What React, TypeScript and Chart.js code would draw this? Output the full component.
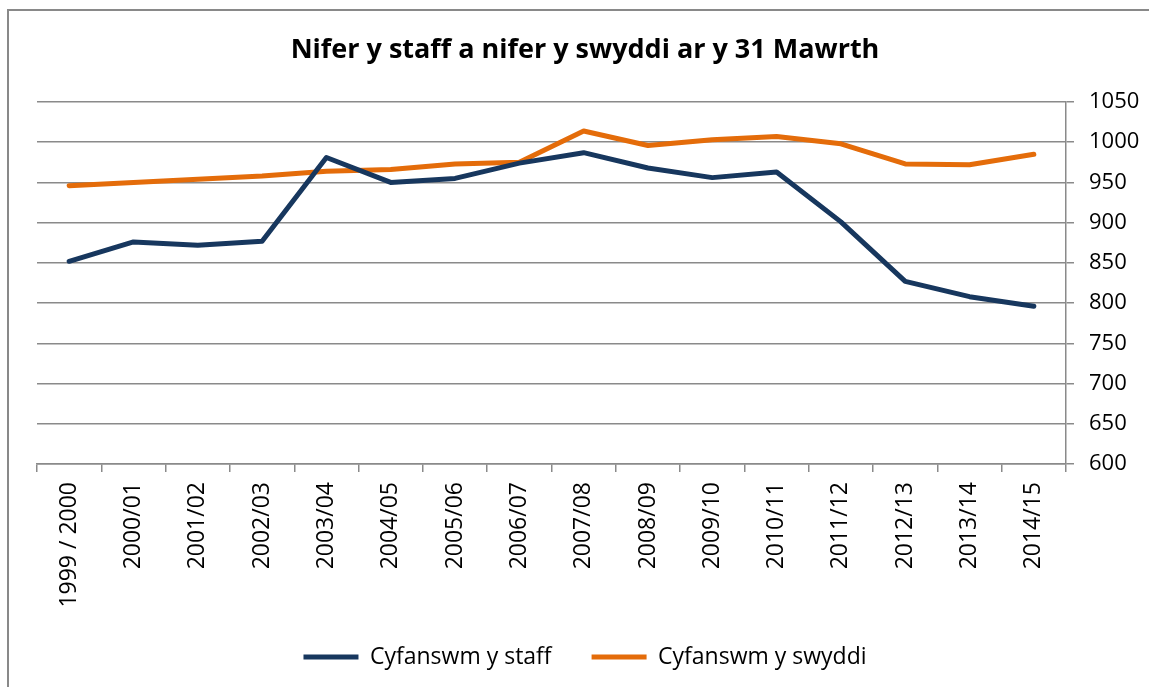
import React, { useEffect, useRef } from "react";
import { Chart, registerables } from "chart.js";

Chart.register(...registerables);

const title = "Nifer y staff a nifer y swyddi ar y 31 Mawrth";

const categories = [
  "1999 / 2000",
  "2000/01",
  "2001/02",
  "2002/03",
  "2003/04",
  "2004/05",
  "2005/06",
  "2006/07",
  "2007/08",
  "2008/09",
  "2009/10",
  "2010/11",
  "2011/12",
  "2012/13",
  "2013/14",
  "2014/15",
];

const staffLabel = "Cyfanswm y staff";
const staffValues = [852, 876, 872, 877, 981, 950, 955, 974, 987, 968, 956, 963, 901, 827, 808, 796];

const postsLabel = "Cyfanswm y swyddi";
const postsValues = [946, 950, 954, 958, 964, 966, 973, 975, 1014, 996, 1003, 1007, 998, 973, 972, 985];

const yMin = 600;
const yMax = 1050;
const yStep = 50;

const FONT = "'Open Sans', 'DejaVu Sans', sans-serif";
const GRID = "#8a8a8a";
const CANVAS_W = 1149;
const CANVAS_H = 679;

export default function App() {
  const canvasRef = useRef<HTMLCanvasElement | null>(null);

  useEffect(() => {
    const canvas = canvasRef.current;
    if (!canvas) return;
    const chart = new Chart(canvas, {
      type: "line",
      data: {
        labels: categories,
        datasets: [
          {
            label: staffLabel,
            data: staffValues,
            borderColor: "#17375E",
            backgroundColor: "#17375E",
            borderWidth: 5,
            pointRadius: 0,
            tension: 0,
            borderCapStyle: "round",
            borderJoinStyle: "round",
            yAxisID: "y",
          },
          {
            label: postsLabel,
            data: postsValues,
            borderColor: "#E46C0A",
            backgroundColor: "#E46C0A",
            borderWidth: 5,
            pointRadius: 0,
            tension: 0,
            borderCapStyle: "round",
            borderJoinStyle: "round",
            yAxisID: "y",
          },
        ],
      },
      options: {
        responsive: false,
        animation: false,
        devicePixelRatio: 1,
        layout: { padding: { left: 24, right: 3, top: 0, bottom: 0.5 } },
        plugins: {
          title: {
            display: true,
            text: title,
            color: "#000",
            font: { family: FONT, size: 27, weight: "bold", lineHeight: 1.2 },
            padding: { top: 34, bottom: 35.6 },
          },
          legend: {
            position: "bottom",
            labels: {
              color: "#000",
              font: { family: FONT, size: 23 },
              usePointStyle: true,
              pointStyle: "line",
              pointStyleWidth: 55,
              padding: 40,
            },
          },
          tooltip: { enabled: false },
        },
        scales: {
          x: {
            type: "category",
            offset: true,
            grid: {
              offset: true,
              drawOnChartArea: false,
              drawTicks: true,
              tickLength: 8,
              color: GRID,
              lineWidth: 1.5,
            },
            border: { display: true, color: GRID, width: 1.5 },
            ticks: {
              color: "#000",
              font: { family: FONT, size: 23 },
              minRotation: 90,
              maxRotation: 90,
              padding: 10,
              autoSkip: false,
            },
            afterFit: (scale: any) => {
              scale.height = 141.5;
            },
          },
          y: {
            position: "right",
            min: yMin,
            max: yMax,
            grid: {
              color: GRID,
              lineWidth: 1.5,
              drawTicks: true,
              tickLength: 8,
            },
            border: { display: true, color: GRID, width: 1.5 },
            ticks: {
              stepSize: yStep,
              color: "#000",
              font: { family: FONT, size: 22 },
              padding: 15,
              callback: (value: any) => String(value),
            },
            afterFit: (scale: any) => {
              scale.width = 80;
            },
          },
          spacer: {
            type: "linear",
            position: "left",
            display: true,
            grid: { display: false, drawTicks: false },
            border: { display: false },
            ticks: { display: false },
            afterFit: (scale: any) => {
              scale.width = 13;
            },
          },
        },
      },
    });
    return () => chart.destroy();
  }, []);

  return (
    <>
      <div
        style={{
          position: "fixed",
          left: 7,
          top: 9,
          width: 2000,
          height: 2000,
          border: "2px solid #898989",
          boxSizing: "border-box",
          background: "#fff",
        }}
      />
      <div style={{ position: "fixed", left: 0, top: 0, width: CANVAS_W, height: CANVAS_H }}>
        <canvas
          ref={canvasRef}
          width={CANVAS_W}
          height={CANVAS_H}
          style={{ width: CANVAS_W, height: CANVAS_H, display: "block" }}
        />
      </div>
    </>
  );
}
